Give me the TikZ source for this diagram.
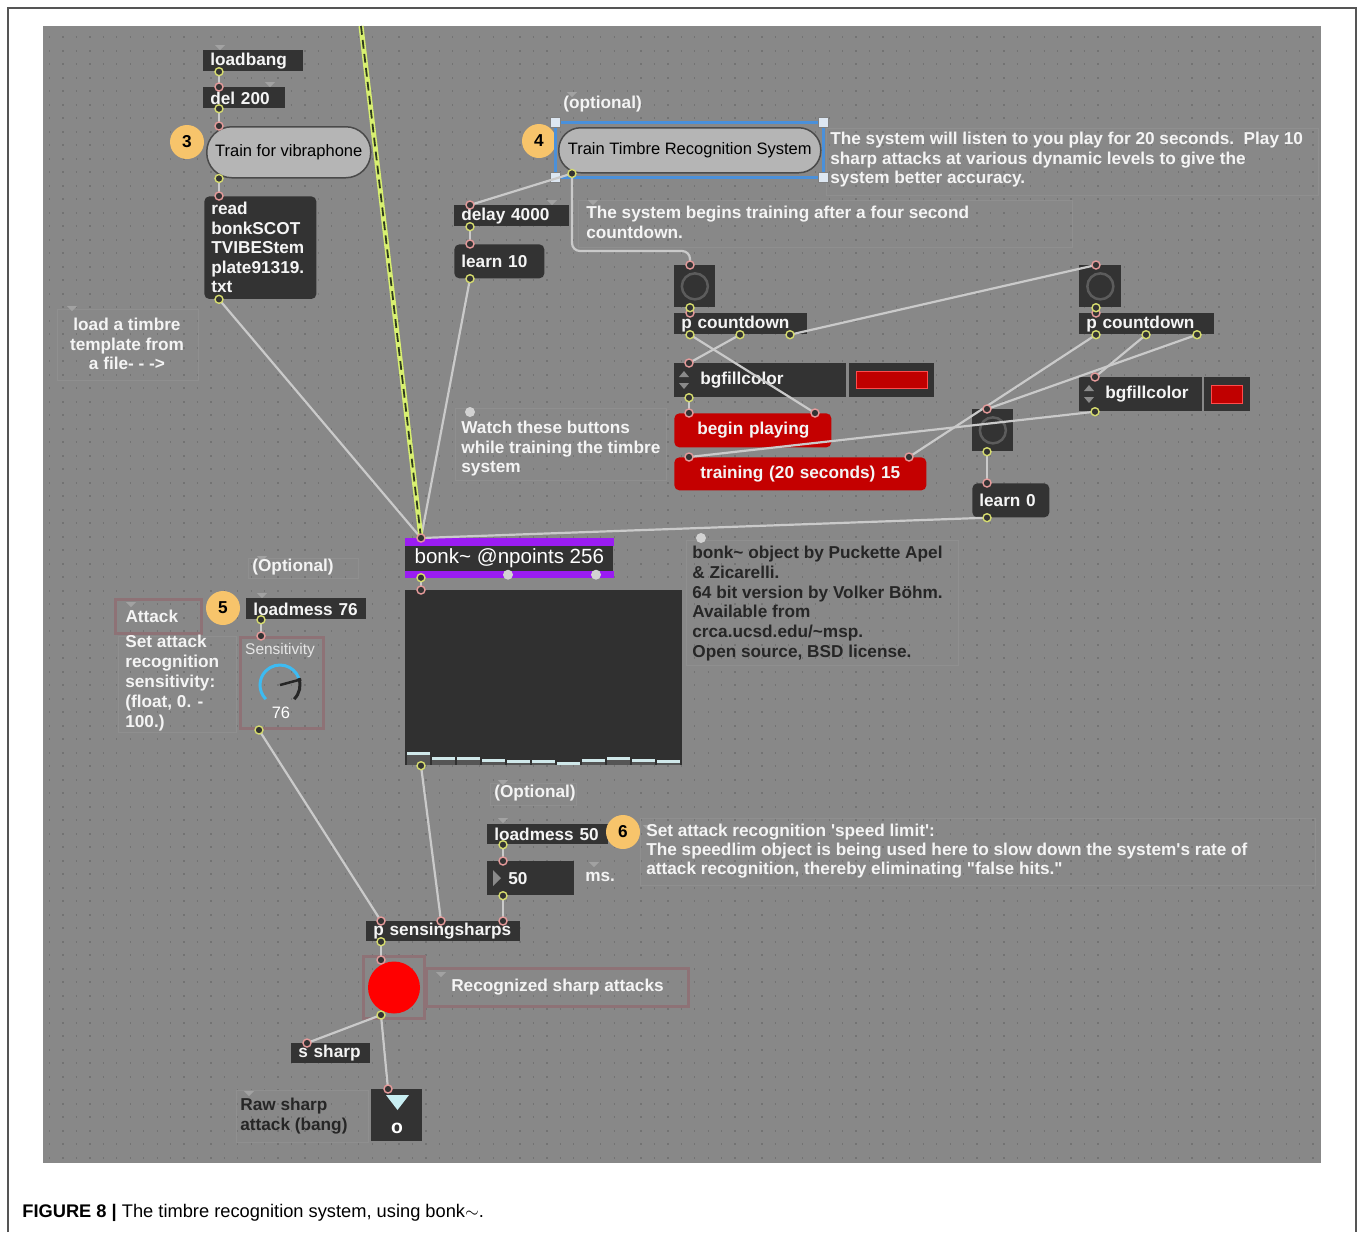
\documentclass[tikz,border=0pt]{standalone}
\usepackage{fontspec}
\setmainfont{Liberation Sans}
\usetikzlibrary{calc}

\newdimen\px \px=0.02cm

\definecolor{patchbg}{HTML}{888888}
\definecolor{dotgray}{HTML}{737373}
\definecolor{boxfill}{HTML}{333333}
\definecolor{maxwhite}{HTML}{F4F4F4}
\definecolor{cablegray}{HTML}{CACACA}
\definecolor{inpink}{HTML}{E59A9A}
\definecolor{outgreen}{HTML}{D6DC6E}
\definecolor{badgeorange}{HTML}{F7C46B}
\definecolor{msgred}{HTML}{C40000}
\definecolor{swatchred}{HTML}{C00000}
\definecolor{ledred}{HTML}{FF0000}
\definecolor{bonkpurple}{HTML}{9A1CF2}
\definecolor{dispfill}{HTML}{303030}
\definecolor{bardark}{HTML}{555555}
\definecolor{barcyan}{HTML}{D0E8EA}
\definecolor{selblue}{HTML}{4A90DA}
\definecolor{handlefill}{HTML}{DDE7F2}
\definecolor{mauve}{HTML}{8E7276}
\definecolor{pillgray}{HTML}{B5B5B5}
\definecolor{pilledge}{HTML}{4A4A4A}
\definecolor{notedark}{HTML}{262626}
\definecolor{dialblue}{HTML}{3DBBF2}
\definecolor{dialtext}{HTML}{E6E6E6}
\definecolor{notchgray}{HTML}{A2A2A2}
\definecolor{ringgray}{HTML}{5C5C5C}
\definecolor{arrowgray}{HTML}{8A8A8A}
\definecolor{lightdot}{HTML}{D2D2D2}
\definecolor{siggreen}{HTML}{D8F070}
\definecolor{sigdark}{HTML}{2E3A1E}
\definecolor{framegray}{HTML}{555555}
\definecolor{bangcyan}{HTML}{C8EEF2}

\newcommand{\inlet}[1]{\filldraw[inport] (#1) circle (4)}
\newcommand{\outlet}[1]{\filldraw[outport] (#1) circle (4)}

\tikzset{
  maxfont/.style={font=\bfseries\fontsize{9.8}{11.1}\selectfont},
  obj/.style={maxfont, fill=boxfill, text=maxwhite, anchor=north west, align=left, inner xsep=7\px, inner ysep=0pt},
  msg/.style={obj, rounded corners=5\px},
  redmsg/.style={msg, fill=msgred},
  btnbox/.style={fill=boxfill, anchor=north west, inner sep=0pt},
  note/.style={maxfont, text=maxwhite, anchor=north west, align=left, inner sep=0pt},
  darknote/.style={note, text=notedark},
  pill/.style={draw=pilledge, line width=1.5\px, fill=pillgray, anchor=north west, inner sep=0pt, text=black, font=\fontsize{9.4}{11}\selectfont},
  badge/.style={circle, fill=badgeorange, inner sep=0pt, minimum size=34\px, maxfont, text=black},
  frame/.style={draw=mauve, line width=3\px, anchor=north west, inner sep=0pt},
  cable/.style={draw=cablegray, line width=2.2\px},
  inport/.style={draw=inpink, fill=boxfill, line width=1.4\px},
  outport/.style={draw=outgreen, fill=boxfill, line width=1.4\px},
  griddot/.style={draw=dotgray, line width=2\px, dash pattern=on 0.7pt off 6.95pt},
  faint/.style={draw=patchbg!94!white, line width=1\px},
  notch/.style={fill=notchgray},
  handle/.style={fill=handlefill, draw=gray, line width=1\px},
  ring/.style={draw=ringgray, line width=2.5\px},
}

\begin{document}
\begin{tikzpicture}[x=0.02cm, y=-0.02cm]
  \useasboundingbox (0,0) rectangle (1360,1232);
  \fill[white] (0,0) rectangle (1360,1232);
  \draw[framegray, line width=1.5\px] (8,1232) -- (8,8) -- (1356,8) -- (1356,1232);

  % patch background
  \fill[patchbg] (43,26) rectangle (1321,1163);
  \foreach \gy in {37,50.5,...,1160}
    \draw[griddot] (49,\gy) -- (1321,\gy);
  \foreach \xa/\ya/\xb/\yb in {57/309/198/380, 578/200/1072/247, 826/128/1318/195,
      455/408/666/480, 686/540/958/665, 118/636/236/732, 640/818/1315/885,
      236/1090/368/1142, 248/558/358/578, 490/783/576/805}
    \draw[faint] (\xa,\ya) rectangle (\xb,\yb);
  \foreach \nx/\ny in {220/45, 270/82, 572/92, 552/200, 593/200, 72/306, 262/556,
      262/593, 503/780, 503/818, 594/862, 441/972, 249/1091, 648/825, 131/602}
    \fill[notch] ({\nx-5},\ny) -- ({\nx+5},\ny) -- (\nx,{\ny+5}) -- cycle;

  % vibraphone preset
  \node[obj, text width=86\px, minimum height=21\px] (loadbang) at (203,50) {loadbang};
  \node[obj, text width=68\px, minimum height=21\px] (del) at (203,87) {del 200};
  \node[badge] (badge3) at (187,142) {3};
  \node[pill, rounded corners=25\px, minimum width=164\px, minimum height=51\px] (vib) at (206,126) {Train for vibraphone};
  \node[msg, text width=98\px, inner ysep=6\px] (read) at (204,196) {read\\bonkSCOT\\TVIBEStem\\plate91319.\\txt};
  \node[note, align=center, anchor=center] (loadnote) at (127,344) {load a timbre\\template from\\a file- - ->};

  % training
  \node[note, anchor=west] (opt4) at (563,104) {(optional)};
  \node[badge] (badge4) at (539,141) {4};
  \draw[selblue, line width=3\px] (555,122) rectangle (823,177);
  \node[pill, rounded corners=22\px, minimum width=262\px, minimum height=45\px] (ttrs) at (558,127) {Train Timbre Recognition System};
  \foreach \hx/\hy in {555/122, 823/122, 555/177, 823/177}
    \filldraw[handle] ({\hx-5},{\hy-5}) rectangle ({\hx+5},{\hy+5});
  \node[note] (listennote) at (830,132) {The system will listen to you play for 20 seconds.\ \ Play 10\\sharp attacks at various dynamic levels to give the\\system better accuracy.};

  \node[obj, text width=101\px, minimum height=21\px] (delay) at (454,205) {delay 4000};
  \node[msg, text width=76\px, minimum height=34\px] (learn10) at (454,244) {learn 10};
  \node[note] (countnote) at (586,206) {The system begins training after a four second\\countdown.};

  % countdowns
  \node[btnbox, minimum width=41\px, minimum height=42\px] (btn1) at (674,265) {};
  \node[obj, text width=119\px, minimum height=21\px] (pcd1) at (674,313) {p countdown};
  \node[obj, text width=158\px, minimum height=34\px] (bgf1) at (674,363) {\hspace{19\px}bgfillcolor};
  \node[btnbox, minimum width=85\px, minimum height=34\px] (swatch1) at (849,363) {};
  \node[redmsg, text width=143\px, minimum height=34\px] (begin) at (674,413) {\hspace{16\px}begin playing};
  \node[redmsg, text width=238\px, minimum height=33\px] (train) at (674,457) {\hspace{19\px}training (20 seconds) 15};
  \node[btnbox, minimum width=41\px, minimum height=42\px] (btn3) at (972,409) {};
  \node[msg, text width=63\px, minimum height=34\px] (learn0) at (972,483) {learn 0};
  \node[btnbox, minimum width=42\px, minimum height=42\px] (btn2) at (1079,265) {};
  \node[obj, text width=121\px, minimum height=21\px] (pcd2) at (1079,313) {p countdown};
  \node[obj, text width=109\px, minimum height=34\px] (bgf2) at (1079,377) {\hspace{19\px}bgfillcolor};
  \node[btnbox, minimum width=46\px, minimum height=34\px] (swatch2) at (1204,377) {};
  \filldraw[fill=swatchred, draw=red!70!white, line width=1\px] ($(swatch1.north west)+(7,8)$) rectangle ($(swatch1.south east)+(-7,-9)$);
  \filldraw[fill=swatchred, draw=red!70!white, line width=1\px] ($(swatch2.north west)+(7,8)$) rectangle ($(swatch2.south east)+(-8,-8)$);
  \foreach \b in {btn1, btn2, btn3}
    \draw[ring] (\b.center) circle (13);
  \foreach \ax/\ay in {684/380, 1089/394} {
    \fill[arrowgray] ({\ax-5},{\ay-3}) -- ({\ax+5},{\ay-3}) -- (\ax,{\ay-9}) -- cycle;
    \fill[arrowgray] ({\ax-5},{\ay+3}) -- ({\ax+5},{\ay+3}) -- (\ax,{\ay+9}) -- cycle;
  }
  \fill[lightdot] (470,412) circle (5);
  \node[note] (watchnote) at (461,421) {Watch these buttons\\while training the timbre\\system};

  % bonk~
  \node[fill=boxfill, anchor=north west, minimum width=208\px, minimum height=39\px, inner sep=0pt, text=white, font=\fontsize{11.7}{13}\selectfont] (bonk) at (405,538) {bonk\textasciitilde{} @npoints 256};
  \fill[bonkpurple] (bonk.north west) rectangle ($(bonk.north east)+(0,8)$);
  \fill[bonkpurple] ($(bonk.south west)+(0,-7)$) rectangle (bonk.south east);
  \fill[lightdot] ($(bonk.south west)+(103,-3)$) circle (5);
  \fill[lightdot] ($(bonk.south west)+(191,-3)$) circle (5);
  \node[fill=dispfill, anchor=north west, minimum width=277\px, minimum height=175\px, inner sep=0pt] (disp) at (405,590) {};
  \foreach \i/\t in {0/752, 1/757, 2/757, 3/759, 4/760, 5/760, 6/762, 7/759, 8/757, 9/759, 10/760}
  {
    \fill[bardark] ({407+\i*25},\t) rectangle ({430+\i*25},765);
    \fill[barcyan] ({407+\i*25},\t) rectangle ({430+\i*25},{\t+3});
  }
  \fill[lightdot] (701,538) circle (5);
  \node[darknote, font=\bfseries\fontsize{9.8}{11.2}\selectfont] (bonknote) at (692,546) {bonk\textasciitilde{} object by Puckette Apel\\\& Zicarelli.\\64 bit version by Volker Böhm.\\Available from\\crca.ucsd.edu/\textasciitilde msp.\\Open source, BSD license.};

  % sensitivity
  \node[note, anchor=west] (opt5) at (252,567) {(Optional)};
  \node[badge] (badge5) at (223,608) {5};
  \node[obj, text width=106\px, minimum height=21\px] (lm76) at (246,598) {loadmess 76};
  \node[frame, note, text width=66\px, inner xsep=10\px, minimum height=34\px] (attack) at (114,598) {Attack};
  \node[note, font=\bfseries\fontsize{9.8}{11.4}\selectfont] (attacknote) at (125,635) {Set attack\\recognition\\sensitivity:\\(float, 0. -\\100.)};
  \node[frame, minimum width=83\px, minimum height=91\px] (dial) at (239,636) {};
  \node[text=dialtext, inner sep=0pt, font=\fontsize{8.8}{10}\selectfont] (sens) at (280,650) {Sensitivity};
  \draw[dialblue, line width=3\px] (280,685) ++(135:20) arc[start angle=135, end angle=340, radius=20];
  \draw[black!85, line width=3\px] (280,685) ++(340:20) arc[start angle=340, end angle=405, radius=20];
  \draw[black!85, line width=2.5\px] (280,685) -- ++(345:22);
  \node[text=white, inner sep=0pt, font=\fontsize{9.4}{11}\selectfont] (sensval) at (281,713) {76};

  % speed limit
  \node[note, anchor=west] (opt6) at (494,793) {(Optional)};
  \node[obj, text width=107\px, minimum height=20\px] (lm50) at (487,824) {loadmess 50};
  \node[badge] (badge6) at (623,832) {6};
  \node[note, font=\bfseries\fontsize{9.8}{10.6}\selectfont] (speednote) at (646,824) {Set attack recognition \textquotesingle speed limit\textquotesingle:\\The speedlim object is being used here to slow down the system\textquotesingle s rate of\\attack recognition, thereby eliminating \textquotedbl false hits.\textquotedbl};
  \node[obj, text width=73\px, minimum height=34\px] (num) at (487,861) {\hspace{14\px}50};
  \fill[arrowgray] (493,870) -- (501,878) -- (493,886) -- cycle;
  \node[note, anchor=west] (msnote) at (585,877) {ms.};

  % output
  \node[obj, text width=140\px, minimum height=20\px] (pss) at (366,921) {p sensingsharps};
  \node[frame, minimum width=61\px, minimum height=62\px] (led) at (362,955) {};
  \fill[ledred] (led.center) circle (26);
  \node[frame, note, minimum width=262\px, minimum height=38\px] (recnote) at (425,967) {Recognized sharp attacks};
  \node[obj, text width=65\px, minimum height=20\px] (ssharp) at (291,1043) {s sharp};
  \node[btnbox, minimum width=51\px, minimum height=52\px] (bang) at (371,1089) {};
  \fill[bangcyan] (386,1095) -- (409,1095) -- (397.5,1110) -- cycle;
  \node[text=white, inner sep=0pt, font=\bfseries\fontsize{11}{12}\selectfont] (bango) at (397,1128) {o};
  \node[darknote] (rawnote) at (240,1098) {Raw sharp\\attack (bang)};

  % ports
  \coordinate (sigtop) at (361,26);
  \coordinate (loadbang-o) at ($(loadbang.south west)+(16,0)$);
  \coordinate (del-i) at ($(del.north west)+(16,0)$);
  \coordinate (del-o) at ($(del.south west)+(16,0)$);
  \coordinate (vib-i) at ($(vib.north west)+(13,0)$);
  \coordinate (vib-o) at ($(vib.south west)+(13,0)$);
  \coordinate (read-i) at ($(read.north west)+(15,0)$);
  \coordinate (read-o) at ($(read.south west)+(15,0)$);
  \coordinate (ttrs-o) at ($(ttrs.south west)+(14,0)$);
  \coordinate (delay-i) at ($(delay.north west)+(16,0)$);
  \coordinate (delay-o) at ($(delay.south west)+(16,0)$);
  \coordinate (learn10-i) at ($(learn10.north west)+(16,0)$);
  \coordinate (learn10-o) at ($(learn10.south west)+(16,0)$);
  \coordinate (btn1-i) at ($(btn1.north west)+(16,0)$);
  \coordinate (btn1-o) at ($(btn1.south west)+(16,0)$);
  \coordinate (pcd1-i) at ($(pcd1.north west)+(16,0)$);
  \coordinate (pcd1-o1) at ($(pcd1.south west)+(16,0)$);
  \coordinate (pcd1-o2) at ($(pcd1.south west)+(66,0)$);
  \coordinate (pcd1-o3) at ($(pcd1.south west)+(116,0)$);
  \coordinate (bgf1-i) at ($(bgf1.north west)+(15,0)$);
  \coordinate (bgf1-o) at ($(bgf1.south west)+(15,0)$);
  \coordinate (begin-i1) at ($(begin.north west)+(15,0)$);
  \coordinate (begin-i2) at ($(begin.north west)+(141,0)$);
  \coordinate (train-i1) at ($(train.north west)+(15,0)$);
  \coordinate (train-i2) at ($(train.north west)+(235,0)$);
  \coordinate (btn3-i) at ($(btn3.north west)+(15,0)$);
  \coordinate (btn3-o) at ($(btn3.south west)+(15,0)$);
  \coordinate (learn0-i) at ($(learn0.north west)+(15,0)$);
  \coordinate (learn0-o) at ($(learn0.south west)+(15,0)$);
  \coordinate (btn2-i) at ($(btn2.north west)+(17,0)$);
  \coordinate (btn2-o) at ($(btn2.south west)+(17,0)$);
  \coordinate (pcd2-i) at ($(pcd2.north west)+(17,0)$);
  \coordinate (pcd2-o1) at ($(pcd2.south west)+(17,0)$);
  \coordinate (pcd2-o2) at ($(pcd2.south west)+(67,0)$);
  \coordinate (pcd2-o3) at ($(pcd2.south west)+(118,0)$);
  \coordinate (bgf2-i) at ($(bgf2.north west)+(16,0)$);
  \coordinate (bgf2-o) at ($(bgf2.south west)+(16,0)$);
  \coordinate (bonk-i) at ($(bonk.north west)+(16,0)$);
  \coordinate (bonk-o) at ($(bonk.south west)+(16,0)$);
  \coordinate (disp-i) at ($(disp.north west)+(16,0)$);
  \coordinate (disp-o) at ($(disp.south west)+(16,0)$);
  \coordinate (lm76-o) at ($(lm76.south west)+(15,0)$);
  \coordinate (dial-i) at ($(dial.north west)+(22,0)$);
  \coordinate (dial-o) at ($(dial.south west)+(20,0)$);
  \coordinate (lm50-o) at ($(lm50.south west)+(16,0)$);
  \coordinate (num-i) at ($(num.north west)+(16,0)$);
  \coordinate (num-o) at ($(num.south west)+(16,0)$);
  \coordinate (pss-i1) at ($(pss.north west)+(15,0)$);
  \coordinate (pss-i2) at ($(pss.north west)+(75,0)$);
  \coordinate (pss-i3) at ($(pss.north west)+(137,0)$);
  \coordinate (pss-o) at ($(pss.south west)+(15,0)$);
  \coordinate (led-i) at ($(led.north west)+(19,5)$);
  \coordinate (led-o) at ($(led.south west)+(19,-5)$);
  \coordinate (ssharp-i) at ($(ssharp.north west)+(16,0)$);
  \coordinate (bang-i) at ($(bang.north west)+(17,0)$);

  % patch cords
  \draw[cable] (loadbang-o) -- (del-i);
  \draw[cable] (del-o) -- (vib-i);
  \draw[cable] (vib-o) -- (read-i);
  \draw[cable] (read-o) -- (bonk-i);
  \draw[cable] (ttrs-o) -- (delay-i);
  \draw[cable, rounded corners=8\px] (ttrs-o) |- ($(btn1-i)+(0,-14)$) -- (btn1-i);
  \draw[cable] (delay-o) -- (learn10-i);
  \draw[cable] (learn10-o) -- (bonk-i);
  \draw[cable] (btn1-o) -- (pcd1-i);
  \draw[cable] (pcd1-o1) -- (begin-i2);
  \draw[cable] (pcd1-o2) -- (bgf1-i);
  \draw[cable] (pcd1-o3) -- (btn2-i);
  \draw[cable] (bgf1-o) -- (begin-i1);
  \draw[cable] (btn2-o) -- (pcd2-i);
  \draw[cable] (pcd2-o1) -- (train-i2);
  \draw[cable] (pcd2-o2) -- (bgf2-i);
  \draw[cable] (pcd2-o3) -- (btn3-i);
  \draw[cable] (bgf2-o) -- (train-i1);
  \draw[cable] (btn3-o) -- (learn0-i);
  \draw[cable] (learn0-o) -- (bonk-i);
  \draw[cable] (bonk-o) -- (disp-i);
  \draw[cable] (disp-o) -- (pss-i2);
  \draw[cable] (lm76-o) -- (dial-i);
  \draw[cable] (dial-o) -- (pss-i1);
  \draw[cable] (lm50-o) -- (num-i);
  \draw[cable] (num-o) -- (pss-i3);
  \draw[cable] (pss-o) -- (led-i);
  \draw[cable] (led-o) -- (ssharp-i);
  \draw[cable] (led-o) -- (bang-i);
  % audio cord
  \draw[siggreen, line width=5\px] (sigtop) -- (bonk-i);
  \draw[sigdark, line width=1.8\px, dash pattern=on 5pt off 3pt] (sigtop) -- (bonk-i);

  \foreach \p in {del-i, vib-i, read-i, delay-i, learn10-i, btn1-i, pcd1-i, bgf1-i,
      begin-i1, begin-i2, train-i1, train-i2, btn3-i, learn0-i, btn2-i, pcd2-i,
      bgf2-i, bonk-i, disp-i, dial-i, num-i, pss-i1, pss-i2, pss-i3, led-i,
      ssharp-i, bang-i}
    \inlet{\p};
  \foreach \p in {loadbang-o, del-o, vib-o, read-o, ttrs-o, delay-o, learn10-o,
      btn1-o, pcd1-o1, pcd1-o2, pcd1-o3, bgf1-o, btn3-o, learn0-o, btn2-o,
      pcd2-o1, pcd2-o2, pcd2-o3, bgf2-o, bonk-o, disp-o, lm76-o, dial-o,
      lm50-o, num-o, pss-o, led-o}
    \outlet{\p};

  % caption
  \node[anchor=west, inner sep=0pt, font=\fontsize{10.4}{12}\selectfont] (caption) at (22,1213) {\textbf{FIGURE 8 |} The timbre recognition system, using bonk$\sim$.};
\end{tikzpicture}
\end{document}
